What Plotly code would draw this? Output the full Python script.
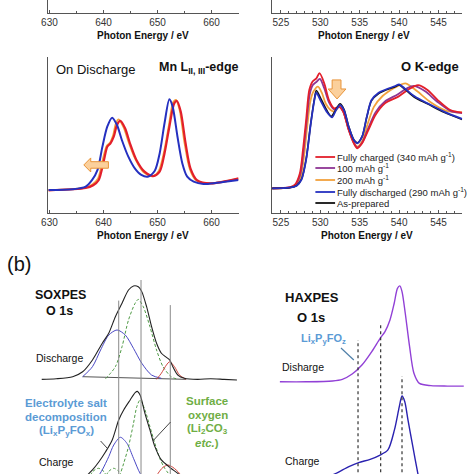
import plotly.graph_objects as go

# ---------------- data ----------------
# Mn L-edge (on discharge): photon energy (eV) / normalised intensity
mn_ev_chg = [629.8, 636.7, 638.1, 639.1, 640.1, 640.7, 641.3, 641.9, 642.5, 643.1, 644.0, 644.9, 646.1, 647.6, 649.2, 650.4, 651.3, 652.2, 653.1, 653.6, 654.3, 655.2, 656.1, 657.3, 659.8, 665.0]
mn_i_chg = [0.145, 0.160, 0.178, 0.210, 0.340, 0.425, 0.447, 0.489, 0.564, 0.590, 0.543, 0.447, 0.340, 0.265, 0.237, 0.265, 0.382, 0.553, 0.703, 0.718, 0.650, 0.447, 0.286, 0.211, 0.190, 0.222]
mn_ev_200 = [629.8, 636.7, 638.0, 639.0, 640.0, 640.6, 641.2, 641.8, 642.3, 642.8, 643.7, 644.7, 645.9, 647.4, 649.0, 650.2, 651.2, 652.1, 652.9, 653.4, 654.1, 655.0, 656.0, 657.2, 659.8, 665.0]
mn_i_200 = [0.146, 0.162, 0.185, 0.222, 0.360, 0.430, 0.450, 0.500, 0.575, 0.600, 0.550, 0.450, 0.345, 0.262, 0.235, 0.268, 0.390, 0.560, 0.710, 0.725, 0.660, 0.450, 0.280, 0.208, 0.190, 0.220]
mn_ev_dis = [629.8, 634.3, 636.7, 637.9, 638.9, 639.8, 640.7, 641.6, 642.5, 643.4, 644.6, 645.8, 647.0, 648.2, 649.5, 650.4, 651.3, 652.2, 652.8, 653.7, 654.6, 655.5, 656.7, 658.5, 661.0, 665.0]
mn_i_dis = [0.147, 0.152, 0.169, 0.212, 0.276, 0.425, 0.553, 0.611, 0.564, 0.468, 0.361, 0.286, 0.244, 0.233, 0.271, 0.382, 0.575, 0.729, 0.682, 0.489, 0.318, 0.233, 0.201, 0.186, 0.194, 0.212]

# O K-edge
ok_ev_chg = [523.9, 526.1, 526.75, 527.4, 527.8, 528.2, 528.6, 529.0, 529.5, 529.9, 530.5, 531.1, 531.75, 532.4, 532.9, 533.6, 534.25, 534.7, 535.3, 536.1, 537.0, 538.2, 539.9, 541.1, 542.4, 543.6, 544.9, 546.5, 548.0]
ok_i_chg = [0.158, 0.165, 0.180, 0.254, 0.404, 0.596, 0.788, 0.842, 0.863, 0.896, 0.831, 0.724, 0.671, 0.681, 0.650, 0.532, 0.447, 0.415, 0.447, 0.532, 0.628, 0.703, 0.746, 0.789, 0.820, 0.789, 0.724, 0.660, 0.643]
ok_ev_100 = [523.9, 526.1, 526.8, 527.45, 527.85, 528.25, 528.65, 529.05, 529.5, 529.95, 530.5, 531.1, 531.75, 532.4, 532.9, 533.6, 534.25, 534.7, 535.3, 536.1, 537.0, 538.2, 539.8, 541.0, 541.9, 543.3, 544.8, 546.5, 548.0]
ok_i_100 = [0.158, 0.164, 0.178, 0.245, 0.390, 0.580, 0.760, 0.820, 0.840, 0.860, 0.800, 0.710, 0.665, 0.680, 0.650, 0.535, 0.450, 0.420, 0.450, 0.545, 0.645, 0.715, 0.760, 0.800, 0.815, 0.780, 0.715, 0.655, 0.640]
ok_ev_200 = [523.9, 526.1, 526.9, 527.5, 527.95, 528.35, 528.75, 529.15, 529.7, 530.2, 530.7, 531.3, 531.8, 532.4, 532.9, 533.6, 534.25, 534.7, 535.3, 536.0, 536.8, 537.9, 539.3, 540.3, 540.9, 542.3, 544.0, 546.0, 548.0]
ok_i_200 = [0.158, 0.163, 0.176, 0.230, 0.370, 0.560, 0.720, 0.780, 0.810, 0.770, 0.700, 0.660, 0.650, 0.680, 0.655, 0.540, 0.455, 0.425, 0.460, 0.570, 0.680, 0.750, 0.800, 0.825, 0.830, 0.780, 0.710, 0.655, 0.645]
ok_ev_dis = [523.9, 526.1, 527.0, 527.6, 528.2, 528.8, 529.25, 529.5, 530.1, 530.8, 531.5, 532.0, 532.5, 533.0, 533.6, 534.25, 534.7, 535.3, 535.9, 536.5, 537.4, 538.4, 539.5, 540.0, 540.7, 542.0, 543.6, 545.7, 548.0]
ok_i_dis = [0.158, 0.162, 0.175, 0.212, 0.340, 0.575, 0.724, 0.771, 0.714, 0.650, 0.613, 0.660, 0.692, 0.660, 0.553, 0.468, 0.447, 0.489, 0.617, 0.724, 0.771, 0.793, 0.814, 0.825, 0.799, 0.746, 0.703, 0.650, 0.603]
ok_ev_ap = [523.9, 526.1, 527.0, 527.6, 528.2, 528.8, 529.25, 529.5, 530.1, 530.8, 531.4, 532.0, 532.5, 533.0, 533.6, 534.25, 534.7, 535.3, 535.9, 536.5, 537.4, 538.4, 539.5, 540.0, 540.7, 542.0, 543.6, 545.7, 548.0]
ok_i_ap = [0.158, 0.162, 0.176, 0.215, 0.345, 0.580, 0.730, 0.785, 0.730, 0.660, 0.620, 0.665, 0.700, 0.665, 0.555, 0.470, 0.450, 0.490, 0.615, 0.720, 0.765, 0.790, 0.810, 0.820, 0.795, 0.740, 0.700, 0.645, 0.600]

legend_labels = ["Fully charged (340 mAh g<sup>-1</sup>)", "100 mAh g<sup>-1</sup>", "200 mAh g<sup>-1</sup>",
                 "Fully discharged (290 mAh g<sup>-1</sup>)", "As-prepared"]

# SOXPES O 1s: binding energy (eV) / intensity (offset)
sox_be_dis = [538.0, 537.02, 535.93, 535.27, 534.62, 533.97, 533.54, 533.1, 532.66, 532.23, 531.9, 531.58, 531.35, 531.03, 530.7, 530.37, 530.05, 529.72, 529.5, 529.29, 528.96, 528.52, 527.65, 526.78, 525.9, 525.04]
sox_i_dis = [0.464, 0.467, 0.477, 0.501, 0.559, 0.641, 0.690, 0.771, 0.837, 0.902, 0.922, 0.918, 0.894, 0.820, 0.722, 0.641, 0.592, 0.572, 0.559, 0.526, 0.485, 0.469, 0.464, 0.467, 0.464, 0.461]
sox_be_dis_bg = [535.27, 528.41]
sox_i_dis_bg = [0.477, 0.464]
sox_be_dis_salt = [535.27, 534.62, 534.08, 533.54, 532.99, 532.44, 531.9, 531.35, 530.7, 530.05]
sox_i_dis_salt = [0.477, 0.526, 0.608, 0.681, 0.706, 0.681, 0.616, 0.543, 0.485, 0.469]
sox_be_dis_surf = [533.75, 533.1, 532.66, 532.23, 531.79, 531.58, 531.25, 530.81, 530.37, 529.94, 529.4, 528.96]
sox_i_dis_surf = [0.467, 0.526, 0.624, 0.755, 0.837, 0.856, 0.820, 0.722, 0.608, 0.526, 0.477, 0.464]
sox_be_dis_lat = [530.37, 530.05, 529.72, 529.5, 529.18, 528.85, 528.41]
sox_i_dis_lat = [0.464, 0.494, 0.534, 0.550, 0.526, 0.485, 0.464]

sox_be_chg = [535.3, 534.62, 534.19, 533.75, 533.31, 532.88, 532.55, 532.12, 531.79, 531.64, 531.46, 531.14, 530.81, 530.48, 530.05, 529.5, 528.96, 528.4]
sox_i_chg = [-0.03, 0.020, 0.060, 0.109, 0.167, 0.265, 0.314, 0.363, 0.399, 0.405, 0.387, 0.297, 0.216, 0.134, 0.069, 0.033, 0.003, -0.03]
sox_be_chg_salt = [534.4, 533.97, 533.54, 533.21, 532.77, 532.33, 531.9, 531.46, 531.1]
sox_i_chg_salt = [-0.03, 0.020, 0.085, 0.142, 0.180, 0.150, 0.077, 0.003, -0.03]
sox_be_chg_surf = [533.0, 532.77, 532.55, 532.23, 531.9, 531.68, 531.46, 531.14, 530.81, 530.48, 530.16, 529.83, 529.5]
sox_i_chg_surf = [-0.03, 0.003, 0.052, 0.134, 0.248, 0.330, 0.363, 0.314, 0.232, 0.150, 0.077, 0.028, -0.005]
sox_be_chg_lat = [530.5, 530.27, 529.94, 529.61, 529.29, 528.85, 528.6]
sox_i_chg_lat = [-0.03, 0.003, 0.033, 0.044, 0.033, 0.003, -0.03]
sox_be_chg_g2 = [534.9, 534.6, 534.23, 533.86, 533.6]
sox_i_chg_g2 = [-0.03, 0.012, 0.028, 0.012, -0.03]
sox_be_chg_g3 = [533.85, 533.55, 533.21, 532.87, 532.6]
sox_i_chg_g3 = [-0.03, 0.012, 0.028, 0.012, -0.03]
sox_marks = [532.88, 531.40, 529.46]
sox_marks_top = [0.85, 0.951, 0.828]

# HAXPES O 1s
hax_be_dis = [540.82, 538.39, 535.97, 535.06, 534.15, 533.25, 532.34, 531.57, 531.12, 530.66, 530.27, 529.97, 529.75, 529.55, 529.25, 528.85, 528.45, 527.94, 526.88, 525.36, 523.85]
hax_i_dis = [0.452, 0.452, 0.456, 0.464, 0.490, 0.534, 0.600, 0.665, 0.698, 0.755, 0.837, 0.910, 0.922, 0.894, 0.788, 0.624, 0.494, 0.444, 0.433, 0.431, 0.431]
hax_be_chg = [536.27, 535.36, 534.45, 533.55, 532.49, 531.57, 530.85, 530.25, 529.8, 529.55, 529.30, 529.0, 528.55, 528.09, 527.8]
hax_i_chg = [-0.013, 0.011, 0.036, 0.056, 0.072, 0.093, 0.118, 0.216, 0.330, 0.382, 0.355, 0.265, 0.134, 0.003, -0.07]
hax_marks = [533.61, 531.52, 529.55]
hax_marks_top = [0.657, 0.74, 0.48]

# ---------------- figure ----------------
W = H = 474
FONT = "Arial, 'Liberation Sans', sans-serif"


def px(x):
    return x / W


def py(y):
    return 1 - y / H


fig = go.Figure()


def line(x, y, ax, color, width=1.8, dash='solid', smooth=0.8):
    fig.add_trace(go.Scatter(x=x, y=y, mode='lines', xaxis='x' + ax, yaxis='y' + ax,
                             line=dict(color=color, width=width, dash=dash, shape='spline', smoothing=smooth),
                             showlegend=False, hoverinfo='skip'))


# empty traces to create the partial top axes
fig.add_trace(go.Scatter(x=[None], y=[None], xaxis='x', yaxis='y', showlegend=False))
fig.add_trace(go.Scatter(x=[None], y=[None], xaxis='x2', yaxis='y2', showlegend=False))

RED, PURP, ORNG, BLUE, BLK = '#e31f2b', '#8e3593', '#f2a13c', '#2530c0', '#111111'

# Mn L-edge
line(mn_ev_200, mn_i_200, '3', ORNG)
line(mn_ev_chg, mn_i_chg, '3', RED, 2.2)
line(mn_ev_dis, mn_i_dis, '3', BLUE, 2.0)

# O K-edge
line(ok_ev_200, ok_i_200, '4', ORNG)
line(ok_ev_100, ok_i_100, '4', PURP)
line(ok_ev_chg, ok_i_chg, '4', RED)
line(ok_ev_ap, ok_i_ap, '4', BLK, 1.6)
line(ok_ev_dis, ok_i_dis, '4', BLUE)

# SOXPES
CB, CG, CR = '#4a48c4', '#4f9a45', '#d0473f'
DASH = '3px,2px'
line(sox_be_dis_bg, sox_i_dis_bg, '5', '#555555', 1.0)
line(sox_be_dis_salt, sox_i_dis_salt, '5', CB, 1.0)
line(sox_be_dis_surf, sox_i_dis_surf, '5', CG, 1.0, DASH)
line(sox_be_dis_lat, sox_i_dis_lat, '5', CR, 1.0)
line(sox_be_dis, sox_i_dis, '5', '#222222', 1.1)
line(sox_be_chg_g2, sox_i_chg_g2, '5', CG, 1.0, DASH)
line(sox_be_chg_g3, sox_i_chg_g3, '5', CG, 1.0, DASH)
line(sox_be_chg_salt, sox_i_chg_salt, '5', CB, 1.0)
line(sox_be_chg_surf, sox_i_chg_surf, '5', CG, 1.0, DASH)
line(sox_be_chg_lat, sox_i_chg_lat, '5', CR, 1.0)
line(sox_be_chg, sox_i_chg, '5', '#222222', 1.1)

# HAXPES
line(hax_be_dis, hax_i_dis, '6', '#9140d6', 1.4)
line(hax_be_chg, hax_i_chg, '6', '#2a22b0', 1.4)

# ---------------- axes ----------------
def energy_axis(x0, x1, rng, anchor, dtick, minor_dtick, tick0):
    return dict(domain=[px(x0), px(x1)], range=rng, anchor=anchor, showline=True, linecolor='#555555',
                linewidth=1, ticks='inside', ticklen=3, tickcolor='#555555', dtick=dtick, tick0=tick0,
                minor=dict(ticks='inside', ticklen=2, dtick=minor_dtick, tick0=tick0, tickcolor='#555555'),
                tickfont=dict(size=10, color='#333333', family=FONT), showgrid=False, zeroline=False,
                fixedrange=True)


def plain_y(y0, y1, anchor):
    return dict(domain=[py(y1), py(y0)], range=[0, 1], anchor=anchor, showline=True, linecolor='#555555',
                linewidth=1, showticklabels=False, ticks='', showgrid=False, zeroline=False, fixedrange=True)


fig.update_layout(
    xaxis=energy_axis(42, 235, [629.8, 665], 'y', 10, 5, 630), yaxis=plain_y(0, 13, 'x'),
    xaxis2=energy_axis(269, 462, [523.875, 548], 'y2', 5, 1, 525), yaxis2=plain_y(0, 13, 'x2'),
    xaxis3=energy_axis(42, 235, [629.8, 665], 'y3', 10, 5, 630), yaxis3=plain_y(57, 213, 'x3'),
    xaxis4=energy_axis(269, 462, [523.875, 548], 'y4', 5, 1, 525), yaxis4=plain_y(57, 213, 'x4'),
    xaxis5=dict(domain=[px(35), px(234)], range=[538, 525], anchor='y5', visible=False, fixedrange=True),
    yaxis5=dict(domain=[0, py(270)], range=[0, 1], anchor='x5', visible=False, fixedrange=True),
    xaxis6=dict(domain=[px(275), px(470)], range=[541, 523.27], anchor='y6', visible=False, fixedrange=True),
    yaxis6=dict(domain=[0, py(270)], range=[0, 1], anchor='x6', visible=False, fixedrange=True),
)

# ---------------- shapes ----------------
shapes = []
for b, t in zip(sox_marks, sox_marks_top):
    shapes.append(dict(type='line', xref='x5', yref='y5', x0=b, x1=b, y0=-0.05, y1=t,
                       line=dict(color='#8a8a8a', width=1)))
for b, t in zip(hax_marks, hax_marks_top):
    shapes.append(dict(type='line', xref='x6', yref='y6', x0=b, x1=b, y0=-0.05, y1=t,
                       line=dict(color='#333333', width=1.2, dash='dot')))
# block arrows
shapes.append(dict(type='path', xref='x3', yref='y3',
                   path='M 636.36,0.308 L 637.64,0.353 L 637.64,0.329 L 640.91,0.329 L 640.91,0.287 '
                        'L 637.64,0.287 L 637.64,0.263 Z',
                   fillcolor='#fbd09c', line=dict(color='#e8943a', width=1)))
shapes.append(dict(type='path', xref='x4', yref='y4',
                   path='M 532.125,0.731 L 531.0,0.795 L 531.5,0.795 L 531.5,0.853 L 532.625,0.853 '
                        'L 532.625,0.795 L 533.25,0.795 Z',
                   fillcolor='#fbd09c', line=dict(color='#e8943a', width=1)))
# pointer lines
shapes.append(dict(type='line', xref='paper', yref='paper', x0=px(95), y0=py(441), x1=px(102), y1=py(448.5),
                   line=dict(color='#444444', width=1)))
shapes.append(dict(type='line', xref='paper', yref='paper', x0=px(166), y0=py(422), x1=px(148), y1=py(441),
                   line=dict(color='#444444', width=1)))
shapes.append(dict(type='line', xref='paper', yref='paper', x0=px(339), y0=py(348), x1=px(352), y1=py(360),
                   line=dict(color='#4f7fa8', width=1.2)))
# legend samples
leg_colors = [RED, PURP, ORNG, BLUE, BLK]
leg_y = [157, 168, 180, 192, 203]
for c, yy in zip(leg_colors, leg_y):
    shapes.append(dict(type='line', xref='paper', yref='paper', x0=px(313), x1=px(333), y0=py(yy), y1=py(yy),
                       line=dict(color=c, width=1.8)))
fig.update_layout(shapes=shapes)


# ---------------- text ----------------
def txt(x, y, s, size, color='#111111', anchor='center'):
    fig.add_annotation(x=px(x), y=py(y), xref='paper', yref='paper', text=s, showarrow=False,
                       font=dict(size=size, color=color, family=FONT), xanchor=anchor, yanchor='middle',
                       borderpad=0)


for lab, yy in zip(legend_labels, leg_y):
    txt(334, yy, lab, 9.5, '#222222', 'left')

txt(138.5, 35.5, '<b>Photon Energy / eV</b>', 10)
txt(362, 35.5, '<b>Photon Energy / eV</b>', 10)
txt(138.5, 235.5, '<b>Photon Energy / eV</b>', 10)
txt(365.5, 235.5, '<b>Photon Energy / eV</b>', 10)
txt(90, 69.5, 'On Discharge', 13)
txt(194.5, 68, '<b>Mn L<sub>II, III</sub>-edge</b>', 12.5)
txt(429.5, 67, '<b>O K-edge</b>', 13)

txt(12.5, 264, '(b)', 20)
txt(54, 295, '<b>SOXPES</b>', 12.5)
txt(53, 311, '<b>O 1s</b>', 12.5)
txt(53.5, 357.5, 'Discharge', 10.5)
txt(50, 462, 'Charge', 10.5)
BLUE_T, GREEN_T = '#5b9bd5', '#6fae45'
txt(60, 402.5, '<b>Electrolyte salt</b>', 11.5, BLUE_T)
txt(60, 416.5, '<b>decomposition</b>', 11.5, BLUE_T)
txt(60, 430.5, '<b>(Li<sub>x</sub>P<sub>y</sub>FO<sub>x</sub>)</b>', 11.5, BLUE_T)
txt(203, 400.5, '<b>Surface</b>', 11.5, GREEN_T)
txt(204, 414.5, '<b>oxygen</b>', 11.5, GREEN_T)
txt(204, 429, '<b>(Li<sub>2</sub>CO<sub>3</sub></b>', 11.5, GREEN_T)
txt(203, 443, '<b><i>etc.</i>)</b>', 11.5, GREEN_T)

txt(310, 297, '<b>HAXPES</b>', 13)
txt(309, 317, '<b>O 1s</b>', 13)
txt(321, 339, '<b>Li<sub>x</sub>P<sub>y</sub>FO<sub>z</sub></b>', 11, BLUE_T)
txt(300, 367, 'Disharge', 10.5)
txt(300, 461, 'Charge', 10.5)

fig.update_layout(width=W, height=H, margin=dict(l=0, r=0, t=0, b=0), paper_bgcolor='white',
                  plot_bgcolor='rgba(0,0,0,0)', showlegend=False, font=dict(family=FONT))

fig.write_html("out.html", config={'displayModeBar': False})
# remove the browser's default page margin so the figure starts at the window corner
with open("out.html", "r", encoding="utf-8") as f:
    page = f.read()
page = page.replace("<head>", "<head><style>html,body{margin:0;padding:0;overflow:hidden;}</style>", 1)
with open("out.html", "w", encoding="utf-8") as f:
    f.write(page)
